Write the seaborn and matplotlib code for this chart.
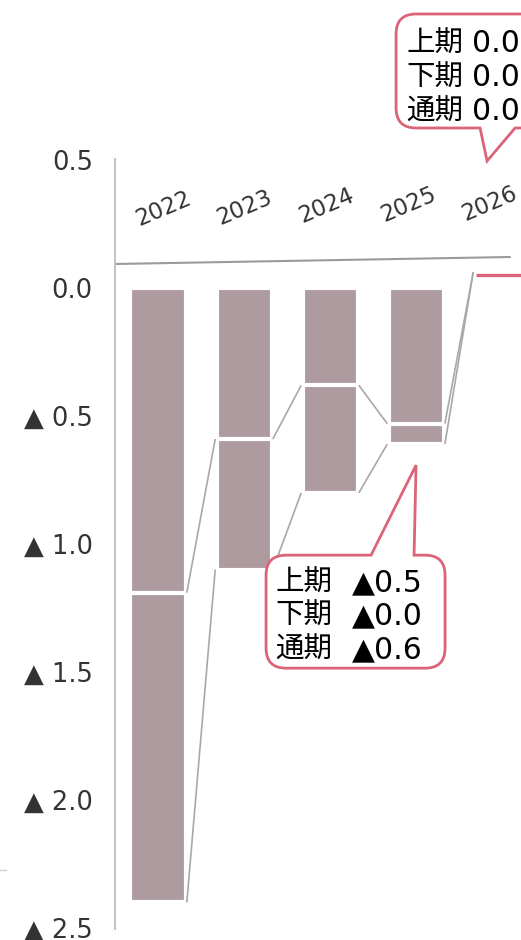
import numpy as np
import pandas as pd
import matplotlib
matplotlib.use('Agg')
import matplotlib.pyplot as plt
import seaborn as sns
from matplotlib.path import Path
from matplotlib.patches import PathPatch
from matplotlib.lines import Line2D
from matplotlib.ticker import FuncFormatter
from matplotlib.transforms import Affine2D, IdentityTransform

# data (▲ = negative)
years = ['2022', '2023', '2024', '2025', '2026']
first_half = [-1.19, -0.59, -0.38, -0.53, 0.0]   # 上期
full_year = [-2.40, -1.10, -0.80, -0.61, 0.0]    # 通期
y_ticks = [0.5, 0.0, -0.5, -1.0, -1.5, -2.0, -2.5]

callout_labels = ['上期', '下期', '通期']
callout_2025 = [-0.5, -0.0, -0.6]
callout_2026 = [0.0, 0.0, 0.0]

BAR = '#ae9b9f'
RED = '#dc6478'
LINK = '#a8a8a8'
TEXT = '#333333'
ZERO_LIFT = 0.05   # the 2026 zero marker sits a bit above the baseline

sns.set_theme(style='white')
plt.rcParams['font.family'] = ['DejaVu Sans', 'Noto Sans CJK JP']

W, H = 521, 940
fig = plt.figure(figsize=(W / 100, H / 100), dpi=100)
ax = fig.add_axes([115 / W, 12 / H, 406 / W, 768 / H])

df = pd.DataFrame({'year': years, 'first': first_half, 'full': full_year})

# full year bar first, first half drawn over it -> white edge splits the two halves
for col in ['full', 'first']:
    sns.barplot(data=df, x='year', y=col, color=BAR, saturation=1, width=0.64,
                edgecolor='white', linewidth=3, errorbar=None, ax=ax)

# connector lines between neighbouring bars
off = 0.335
for i in range(len(years) - 1):
    for level in (first_half, full_year):
        y0 = level[i]
        y1 = level[i + 1] + (ZERO_LIFT * 1.25 if i + 1 == len(years) - 1 else 0)
        ax.plot([i + off, i + 1 - off], [y0, y1], color=LINK, lw=1.2,
                solid_capstyle='butt')

# 2026 marker
last = len(years) - 1
ax.plot([last - 0.3, last + 0.3], [full_year[last] + ZERO_LIFT] * 2,
        color=RED, lw=2.4, solid_capstyle='butt')

ax.set_xlim(-0.5, 4.22)
ax.set_ylim(-2.5, 0.5)
ax.set_xlabel('')
ax.set_ylabel('')
ax.set_xticks([])
ax.set_yticks(y_ticks)


def fmt(v, pos=None):
    if v < -1e-9:
        return f'▲ {abs(v):.1f}'
    return f'{abs(v):.1f}'


ax.yaxis.set_major_formatter(FuncFormatter(fmt))
ax.tick_params(axis='y', length=0, pad=16, labelsize=18.5, labelcolor=TEXT)
for s in ['top', 'right', 'bottom']:
    ax.spines[s].set_visible(False)
ax.spines['left'].set_color('#c4c4c4')
ax.spines['left'].set_linewidth(1.5)
ax.spines['left'].set_bounds(-2.505, 0.505)

# slanted header line and rotated year labels (they drift left a little, like the header)
ax.plot([0, 0.973], [0.8646, 0.8737], transform=ax.transAxes, color='#9a9a9a',
        lw=1.5, clip_on=False)
for i, yr in enumerate(years):
    ax.text(i * 0.95 + 0.06, 0.31 + i * 0.005, yr, rotation=23, ha='center',
            va='center', rotation_mode='anchor', fontsize=16.5, color=TEXT)

# small stray tick on the far left
fig.add_artist(Line2D([0, 6], [70, 70], transform=IdentityTransform(),
                      color='#cccccc', lw=1))


def callout(tip, l, r, b, t, pa, pb, rad, pointer_top):
    if pointer_top:
        verts = [(pa, t), (0, 0), (pb, t), (r - rad, t), (r, t), (r, t - rad),
                 (r, b + rad), (r, b), (r - rad, b), (l + rad, b), (l, b), (l, b + rad),
                 (l, t - rad), (l, t), (l + rad, t), (pa, t)]
    else:
        verts = [(pb, b), (0, 0), (pa, b), (l + rad, b), (l, b), (l, b + rad),
                 (l, t - rad), (l, t), (l + rad, t), (r - rad, t), (r, t), (r, t - rad),
                 (r, b + rad), (r, b), (r - rad, b), (pb, b)]
    codes = [Path.MOVETO, Path.LINETO, Path.LINETO, Path.LINETO, Path.CURVE3, Path.CURVE3,
             Path.LINETO, Path.CURVE3, Path.CURVE3, Path.LINETO, Path.CURVE3, Path.CURVE3,
             Path.LINETO, Path.CURVE3, Path.CURVE3, Path.CLOSEPOLY]
    tr = Affine2D().translate(tip[0], tip[1])
    fig.add_artist(PathPatch(Path(verts, codes), transform=tr, facecolor='white',
                             edgecolor=RED, lw=2, joinstyle='miter'))


def callout_text(tip, xl, xv, baselines, values):
    for lab, v, yb in zip(callout_labels, values, baselines):
        sign = '▲' if np.signbit(v) else ''
        fig.text(tip[0] + xl, tip[1] + yb, lab, transform=IdentityTransform(),
                 fontsize=20.5, color='black', va='baseline', ha='left')
        fig.text(tip[0] + xv, tip[1] + yb, f'{sign}{abs(v):.1f}',
                 transform=IdentityTransform(), fontsize=21.5, color='black',
                 va='baseline', ha='left')


# 2025 callout (below the bar)
tip = ax.transData.transform((3, full_year[3])) + np.array([0, -21])
callout(tip, -150, 29, -203, -90, -45, -2, 20, True)
callout_text(tip, -141, -64, [-126, -159, -193], callout_2025)

# 2026 callout (above the plot, cut by the figure edge)
tip = ax.transData.transform((4, 0.5)) + np.array([-15, -1])
callout(tip, -91, 120, 33, 147, -7, 28, 20, False)
callout_text(tip, -81, -15, [109, 75, 41], callout_2026)

fig.savefig('out.png', dpi=100)
